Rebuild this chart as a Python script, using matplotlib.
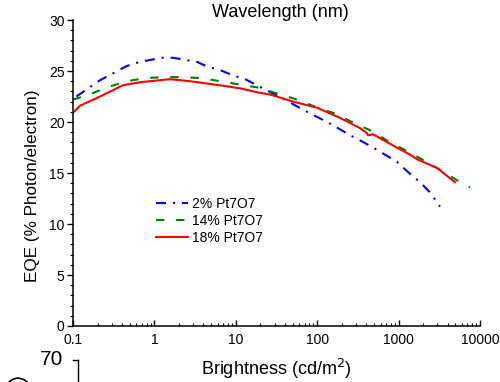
import matplotlib
matplotlib.use("Agg")
import matplotlib.pyplot as plt
from matplotlib.ticker import MultipleLocator, NullFormatter, LogLocator
from matplotlib.patches import Arc
from matplotlib.lines import Line2D

plt.rcParams['font.family'] = ['Liberation Sans', 'DejaVu Sans']
plt.rcParams['lines.scale_dashes'] = False

# Data
b2 = [0.11, 0.215, 0.46, 0.665, 1.24, 1.69, 2.38, 3.33, 4.55, 6.39, 8.98, 13.0, 16.3,
      24.2, 38, 67, 94, 132, 180, 253, 336, 485, 955, 1303, 1832, 2431, 3225]
e2 = [22.5, 24.1, 25.5, 25.9, 26.3, 26.3, 26.1, 25.9, 25.4, 25.1, 24.6, 24.2, 23.8,
      23.1, 22.3, 21.2, 20.6, 20.0, 19.4, 18.7, 18.2, 17.5, 16.1, 15.1, 14.1, 13.1, 11.7]

b14 = [0.1, 0.148, 0.262, 0.46, 0.77, 1.28, 2.24, 3.85, 6.39, 10.6, 18.2, 32.1, 56.5,
       94, 156, 268, 471, 784, 1303, 2297, 3933, 6545, 7540]
e14 = [22.2, 22.6, 23.4, 24.0, 24.3, 24.4, 24.4, 24.3, 24.0, 23.7, 23.4, 22.8, 22.2,
       21.5, 20.9, 20.0, 19.1, 18.0, 17.1, 16.0, 14.9, 13.8, 13.6]

b18 = [0.1, 0.122, 0.215, 0.41, 0.665, 1.56, 2.74, 6.39, 11.3, 18.7, 26.3, 50.5, 99.6,
       191, 336, 409, 421, 485, 853, 1380, 1730, 2965, 4932]
e18 = [20.9, 21.6, 22.5, 23.6, 23.9, 24.2, 24.0, 23.6, 23.3, 22.9, 22.7, 22.0, 21.4,
       20.4, 19.4, 18.9, 18.7, 18.8, 17.7, 16.8, 16.3, 15.5, 14.1]

labels = ['2% Pt7O7', '14% Pt7O7', '18% Pt7O7']
xticks = [0.1, 1, 10, 100, 1000, 10000]
xticklabels = ['0.1', '1', '10', '100', '1000', '10000']

fig = plt.figure(figsize=(5.0, 3.82), dpi=100)
ax = fig.add_axes([0.146, 0.1466, 0.814, 0.801])

ax.plot(b2, e2, color='#0000ff', lw=1.5, dashes=(7.2, 5.0, 1.5, 5.0), label=labels[0])
ax.plot(b14, e14, color='#007f00', lw=1.5, dashes=(6.0, 8.5), label=labels[1])
ax.plot(b18, e18, color='#ff0000', lw=1.5, label=labels[2])

ax.set_xscale('log')
ax.set_xlim(0.1, 10000)
ax.set_ylim(0, 30)
ax.set_xticks(xticks)
ax.set_xticklabels(xticklabels)
ax.xaxis.set_minor_locator(LogLocator(base=10, subs=range(2, 10)))
ax.xaxis.set_minor_formatter(NullFormatter())
ax.yaxis.set_major_locator(MultipleLocator(5))
ax.yaxis.set_minor_locator(MultipleLocator(1))

for s in ['top', 'right']:
    ax.spines[s].set_visible(False)
for s in ['left', 'bottom']:
    ax.spines[s].set_linewidth(1.1)

ax.tick_params(axis='x', which='major', direction='in', length=4, width=1, labelsize=10, pad=5)
ax.tick_params(axis='x', which='minor', direction='in', length=2.5, width=0.8)
ax.tick_params(axis='y', which='major', direction='out', length=4, width=1, labelsize=10, pad=2)
ax.tick_params(axis='y', which='minor', direction='out', length=2.5, width=0.8)

ax.set_ylabel('EQE (% Photon/electron)', fontsize=12.3)
ax.yaxis.set_label_coords(-0.082, 0.459)
ax.set_xlabel('Brightness (cd/m$^2$)', fontsize=13)
ax.xaxis.set_label_coords(0.50, -0.102)
fig.text(0.56, 0.968, 'Wavelength (nm)', fontsize=13, ha='center', va='center')

leg = ax.legend(loc='upper left', bbox_to_anchor=(0.19, 0.44), frameon=False,
                fontsize=10, handlelength=2.3, handletextpad=0.3, labelspacing=0.22,
                borderaxespad=0)

# stray fragment of a neighbouring chart at the bottom-left
fig.text(0.103, 0.058, '70', fontsize=15, ha='center', va='center')
fig.add_artist(Line2D([0.145, 0.156], [0.057, 0.057], color='black', lw=1.0,
                      transform=fig.transFigure))
fig.add_artist(Line2D([0.156, 0.156], [0.057, 0.0], color='black', lw=1.0,
                      transform=fig.transFigure))
fig.add_artist(Arc((0.036, -0.06), 0.07, 0.14, theta1=20, theta2=160,
                   transform=fig.transFigure, color='black', lw=1.2))

fig.savefig('out.png', dpi=100)
